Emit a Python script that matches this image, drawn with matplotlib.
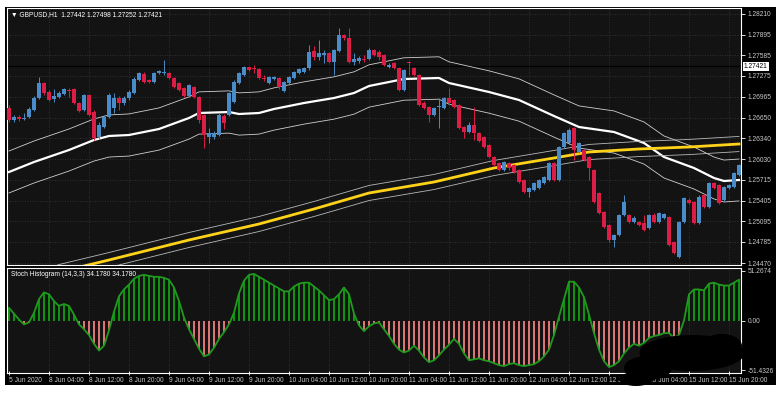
import matplotlib
matplotlib.use("Agg")
import matplotlib.pyplot as plt
import matplotlib.transforms as mtransforms
from matplotlib.patches import Rectangle, Ellipse
import numpy as np

plt.rcParams['font.family'] = ['Liberation Sans', 'DejaVu Sans']

# GBPUSD H1 candles, 5 Jun 2020 20:00 .. 15 Jun 2020 22:00
opens = [1.26795, 1.26615, 1.26660, 1.26630, 1.26660, 1.26765, 1.26945, 1.27170, 1.27035, 1.26930,
         1.26960, 1.27005, 1.27065, 1.27080, 1.26870, 1.26765, 1.26990, 1.26735, 1.26360, 1.26510,
         1.26660, 1.26795, 1.26945, 1.26870, 1.26945, 1.27020, 1.27215, 1.27305, 1.27215, 1.27185,
         1.27320, 1.27320, 1.27320, 1.27245, 1.27170, 1.27095, 1.26975, 1.27110, 1.26960, 1.26690,
         1.26360, 1.26360, 1.26390, 1.26675, 1.26690, 1.26885, 1.27170, 1.27290, 1.27410, 1.27395,
         1.27380, 1.27245, 1.27170, 1.27230, 1.27245, 1.27050, 1.27170, 1.27245, 1.27320, 1.27335,
         1.27395, 1.27650, 1.27560, 1.27590, 1.27620, 1.27485, 1.27650, 1.27890, 1.27845, 1.27485,
         1.27500, 1.27530, 1.27530, 1.27665, 1.27635, 1.27590, 1.27410, 1.27470, 1.27395, 1.27065,
         1.27485, 1.27395, 1.27290, 1.26870, 1.26810, 1.26690, 1.26810, 1.26795, 1.26945, 1.26915,
         1.26840, 1.26510, 1.26435, 1.26540, 1.26420, 1.26360, 1.26240, 1.26060, 1.25970, 1.25865,
         1.25970, 1.25940, 1.25865, 1.25715, 1.25535, 1.25565, 1.25595, 1.25670, 1.25715, 1.25970,
         1.25715, 1.26210, 1.26270, 1.26495, 1.26135, 1.26165, 1.26060, 1.25865, 1.25520, 1.25235,
         1.25040, 1.24815, 1.24890, 1.25190, 1.25190, 1.25085, 1.25085, 1.25070, 1.24995, 1.25190,
         1.25085, 1.25145, 1.25160, 1.24785, 1.24560, 1.25085, 1.25415, 1.25385, 1.25070, 1.25490,
         1.25310, 1.25670, 1.25640, 1.25415, 1.25595, 1.25610, 1.25790]
highs = [1.26840, 1.26690, 1.26690, 1.26720, 1.26810, 1.26975, 1.27260, 1.27185, 1.27065, 1.27080,
         1.27050, 1.27095, 1.27095, 1.27095, 1.26885, 1.27005, 1.27005, 1.26765, 1.26585, 1.26690,
         1.27020, 1.27020, 1.26975, 1.26975, 1.27065, 1.27260, 1.27335, 1.27335, 1.27230, 1.27335,
         1.27365, 1.27515, 1.27335, 1.27260, 1.27185, 1.27110, 1.27155, 1.27125, 1.26975, 1.26705,
         1.26495, 1.26450, 1.26720, 1.26705, 1.27035, 1.27215, 1.27335, 1.27425, 1.27425, 1.27440,
         1.27395, 1.27290, 1.27275, 1.27275, 1.27260, 1.27200, 1.27275, 1.27350, 1.27395, 1.27410,
         1.27740, 1.27725, 1.27815, 1.27665, 1.27635, 1.27680, 1.27995, 1.27905, 1.27995, 1.27620,
         1.27575, 1.27590, 1.27695, 1.27680, 1.27665, 1.27605, 1.27470, 1.27485, 1.27410, 1.27380,
         1.27500, 1.27410, 1.27305, 1.26900, 1.26825, 1.26810, 1.26945, 1.26960, 1.27095, 1.26930,
         1.26855, 1.26525, 1.26585, 1.26810, 1.26435, 1.26375, 1.26255, 1.26075, 1.25985, 1.26000,
         1.25985, 1.25955, 1.25880, 1.25730, 1.25610, 1.25685, 1.25730, 1.25775, 1.25985, 1.25985,
         1.26225, 1.26435, 1.26495, 1.26510, 1.26285, 1.26180, 1.26075, 1.25880, 1.25535, 1.25250,
         1.25055, 1.24905, 1.25205, 1.25490, 1.25205, 1.25175, 1.25100, 1.25190, 1.25205, 1.25220,
         1.25235, 1.25220, 1.25175, 1.24800, 1.25100, 1.25460, 1.25445, 1.25400, 1.25490, 1.25505,
         1.25685, 1.25685, 1.25655, 1.25625, 1.25655, 1.25835, 1.25955]
lows = [1.26585, 1.26585, 1.26600, 1.26615, 1.26645, 1.26750, 1.26930, 1.26990, 1.26900, 1.26885,
        1.26945, 1.26990, 1.26960, 1.26855, 1.26735, 1.26750, 1.26675, 1.26315, 1.26330, 1.26495,
        1.26645, 1.26720, 1.26765, 1.26840, 1.26915, 1.27005, 1.27200, 1.27170, 1.27170, 1.27170,
        1.27305, 1.27290, 1.27230, 1.27095, 1.27050, 1.26960, 1.26960, 1.26945, 1.26570, 1.26195,
        1.26270, 1.26330, 1.26375, 1.26480, 1.26675, 1.26870, 1.27155, 1.27275, 1.27350, 1.27320,
        1.27230, 1.27200, 1.27155, 1.27215, 1.27080, 1.27035, 1.27155, 1.27230, 1.27305, 1.27320,
        1.27365, 1.27515, 1.27515, 1.27470, 1.27470, 1.27290, 1.27635, 1.27815, 1.27470, 1.27440,
        1.27470, 1.27485, 1.27515, 1.27575, 1.27515, 1.27425, 1.27395, 1.27380, 1.27050, 1.27050,
        1.27290, 1.27275, 1.26825, 1.26780, 1.26585, 1.26675, 1.26495, 1.26780, 1.26840, 1.26795,
        1.26480, 1.26345, 1.26420, 1.26315, 1.26285, 1.26195, 1.26045, 1.25925, 1.25850, 1.25850,
        1.25865, 1.25820, 1.25670, 1.25520, 1.25460, 1.25550, 1.25580, 1.25655, 1.25700, 1.25700,
        1.25700, 1.26195, 1.26255, 1.26015, 1.26120, 1.26000, 1.25715, 1.25370, 1.25205, 1.24995,
        1.24785, 1.24710, 1.24875, 1.25175, 1.25070, 1.25070, 1.25025, 1.24950, 1.24980, 1.25070,
        1.25070, 1.25130, 1.24725, 1.24605, 1.24545, 1.25070, 1.25355, 1.25055, 1.25055, 1.25295,
        1.25295, 1.25580, 1.25355, 1.25400, 1.25580, 1.25595, 1.25775]
closes = [1.26615, 1.26660, 1.26630, 1.26645, 1.26780, 1.26945, 1.27170, 1.27020, 1.26915, 1.26975,
          1.27020, 1.27080, 1.27050, 1.26870, 1.26750, 1.26990, 1.26690, 1.26345, 1.26540, 1.26660,
          1.26990, 1.26945, 1.26870, 1.26945, 1.27035, 1.27230, 1.27320, 1.27185, 1.27185, 1.27320,
          1.27350, 1.27335, 1.27245, 1.27110, 1.27065, 1.26975, 1.27140, 1.26960, 1.26615, 1.26390,
          1.26420, 1.26420, 1.26690, 1.26570, 1.27020, 1.27185, 1.27320, 1.27410, 1.27365, 1.27380,
          1.27245, 1.27230, 1.27260, 1.27260, 1.27110, 1.27185, 1.27260, 1.27335, 1.27380, 1.27395,
          1.27635, 1.27560, 1.27620, 1.27620, 1.27485, 1.27665, 1.27890, 1.27845, 1.27485, 1.27530,
          1.27545, 1.27515, 1.27665, 1.27590, 1.27560, 1.27440, 1.27440, 1.27395, 1.27065, 1.27365,
          1.27470, 1.27290, 1.26840, 1.26795, 1.26690, 1.26795, 1.26825, 1.26945, 1.26870, 1.26810,
          1.26495, 1.26435, 1.26540, 1.26420, 1.26300, 1.26210, 1.26060, 1.25940, 1.25865, 1.25985,
          1.25895, 1.25835, 1.25685, 1.25535, 1.25595, 1.25670, 1.25715, 1.25760, 1.25970, 1.25715,
          1.26210, 1.26420, 1.26465, 1.26165, 1.26270, 1.26015, 1.25895, 1.25385, 1.25220, 1.25010,
          1.24815, 1.24890, 1.25190, 1.25385, 1.25085, 1.25145, 1.25040, 1.24965, 1.25190, 1.25085,
          1.25220, 1.25205, 1.24740, 1.24620, 1.25085, 1.25445, 1.25370, 1.25070, 1.25460, 1.25310,
          1.25670, 1.25595, 1.25370, 1.25610, 1.25640, 1.25820, 1.25940]

# moving averages (bar number, value)
ma_fast_bars = [1, 6, 13, 18, 21, 25, 31, 37, 39, 45, 47, 51, 54, 60, 66, 70, 73, 80,
                87, 89, 97, 103, 110, 115, 122, 128, 132, 138, 142, 144, 147]
ma_fast = [1.25835, 1.25985, 1.26165, 1.26315, 1.26375, 1.26390, 1.26480, 1.26645, 1.26720,
           1.26735, 1.26705, 1.26720, 1.26780, 1.26870, 1.26945, 1.27020, 1.27125, 1.27230,
           1.27245, 1.27170, 1.27035, 1.26915, 1.26675, 1.26510, 1.26435, 1.26270, 1.26060,
           1.25895, 1.25745, 1.25700, 1.25715]
ma_slow_bars = [1, 11, 21, 37, 51, 62, 73, 86, 98, 110, 117, 127, 137, 147]
ma_slow = [1.24065, 1.24335, 1.24515, 1.24815, 1.25055, 1.25280, 1.25520, 1.25685,
           1.25895, 1.26045, 1.26135, 1.26180, 1.26210, 1.26255]
fast_env = 0.0025
slow_env = 0.0009

stoch = [13, 7, 1, -4, -2, 8, 22, 29, 27, 20, 15, 17, 15, 6, -4, -9, -15, -24, -31, -26,
         -10, 9, 25, 32, 37, 43, 46, 47, 46, 45, 45, 44, 42, 34, 20, 3, -9, -19, -29, -37,
         -35, -28, -19, -12, -4, 8, 28, 41, 47, 48, 45, 42, 39, 36, 33, 30, 30, 35, 38, 39,
         39, 35, 31, 26, 21, 22, 27, 34, 27, 7, -5, -11, -6, -3, -2, -9, -16, -24, -30, -33,
         -31, -26, -31, -38, -43, -41, -36, -30, -25, -19, -24, -34, -41, -40, -39, -41, -42, -44, -46, -47,
         -45, -44, -46, -47, -46, -45, -42, -37, -30, -15, 4, 22, 40, 40, 34, 24, 6, -13, -30, -42,
         -48, -46, -42, -34, -28, -24, -26, -23, -18, -16, -15, -13, -13, -18, -15, 0, 27, 32, 32, 31,
         38, 39, 37, 36, 36, 39, 42]

price_ticks = [1.28210, 1.27895, 1.27585, 1.27275, 1.26965, 1.26650, 1.26340,
               1.26030, 1.25715, 1.25405, 1.25095, 1.24785, 1.24470]
time_ticks = [1, 9, 17, 25, 33, 41, 49, 57, 65, 73, 81, 89, 97, 105, 113, 121, 129, 137, 145]
time_labels = ["5 Jun 2020", "8 Jun 04:00", "8 Jun 12:00", "8 Jun 20:00", "9 Jun 04:00",
               "9 Jun 12:00", "9 Jun 20:00", "10 Jun 04:00", "10 Jun 12:00", "10 Jun 20:00",
               "11 Jun 04:00", "11 Jun 12:00", "11 Jun 20:00", "12 Jun 04:00", "12 Jun 12:00",
               "12 Jun 20:00", "15 Jun 04:00", "15 Jun 12:00", "15 Jun 20:00"]
bid = 1.27421

BG = "#131313"
TXT = "#c8c8c8"
BULL = "#4a8cc8"
BEAR = "#dc1e46"
FS = 4.8

o = np.array(opens); h = np.array(highs); l = np.array(lows); c = np.array(closes)
x = np.arange(1, len(o) + 1)

fig = plt.figure(figsize=(7.78, 3.97), dpi=100, facecolor="white")
fig.patches.append(Rectangle((5/778, 12/397), 771/778, 378/397, transform=fig.transFigure,
                             facecolor="black", edgecolor="none", zorder=-5))

ax = fig.add_axes([7/778, 1-265/397, 734/778, 257/397], facecolor=BG)
ax2 = fig.add_axes([7/778, 1-373/397, 734/778, 105/397], facecolor=BG, sharex=ax)

# grid
for a in (ax, ax2):
    for t in time_ticks[1:]:
        a.axvline(t, color="#3a3a3a", lw=0.6, ls=(0, (1, 2)), zorder=0)
for p in price_ticks:
    ax.axhline(p, color="#3a3a3a", lw=0.6, ls=(0, (1, 2)), zorder=0)
ax.axhline(bid, color="#000000", lw=0.9, zorder=1)

# moving averages + envelopes
mf = np.array(ma_fast); ms = np.array(ma_slow)
ax.plot(ma_fast_bars, mf, color="white", lw=1.6, zorder=2)
ax.plot(ma_fast_bars, mf * (1 + fast_env), color="#cfcfcf", lw=0.6, zorder=2)
ax.plot(ma_fast_bars, mf * (1 - fast_env), color="#cfcfcf", lw=0.6, zorder=2)
ax.plot(ma_slow_bars, ms, color="#ffd21a", lw=2.0, zorder=2)
ax.plot(ma_slow_bars, ms * (1 + slow_env), color="#b8b8b8", lw=0.6, zorder=2)
ax.plot(ma_slow_bars, ms * (1 - slow_env), color="#b8b8b8", lw=0.6, zorder=2)

# candles
cols = np.where(c >= o, BULL, BEAR)
ax.vlines(x, l, h, colors=cols, lw=0.7, zorder=3)
body = np.maximum(np.abs(c - o), 0.00004)
ax.bar(x, body, bottom=np.minimum(o, c), width=0.7, color=cols, edgecolor="none", zorder=4)

ax.set_xlim(0.6, 147.4)
ax.set_ylim(1.2444, 1.28295)
ax.yaxis.tick_right()
ax.set_yticks(price_ticks)
ax.set_yticklabels([f"{p:.5f}" for p in price_ticks])
ax.tick_params(axis="y", colors="white", labelcolor=TXT, labelsize=FS, length=3, width=0.6, pad=2)
ax.tick_params(axis="x", bottom=False, labelbottom=False)
for s in ax.spines.values():
    s.set_color("white"); s.set_linewidth(0.8)

trans = mtransforms.blended_transform_factory(ax.transAxes, ax.transData)
ax.text(1.004, bid, f"{bid:.5f}", transform=trans, fontsize=FS, color="black", va="center",
        ha="left", bbox=dict(boxstyle="square,pad=0.15", facecolor="white", edgecolor="none"),
        zorder=10, clip_on=False)
ax.text(0.006, 0.988, "\u25bc GBPUSD,H1  1.27442 1.27498 1.27252 1.27421", transform=ax.transAxes,
        fontsize=FS, color="white", va="top", ha="left")

# stoch histogram
sv = np.array(stoch, dtype=float)
scol = np.where(sv >= 0, "#10a010", "#f08080")
ax2.vlines(x, 0, sv, colors=scol, lw=1.3, zorder=2)
ax2.plot(x, sv, color="#1f9a1f", lw=1.3, zorder=3)
ax2.set_ylim(-54.1, 54.1)
ax2.yaxis.tick_right()
ax2.set_yticks([51.2674, 0, -51.4326])
ax2.set_yticklabels(["51.2674", "0.00", "-51.4326"])
ax2.tick_params(axis="y", colors="white", labelcolor=TXT, labelsize=FS, length=3, width=0.6, pad=1.5)
ax2.set_xticks(time_ticks)
ax2.set_xticklabels(time_labels, ha="left")
ax2.tick_params(axis="x", colors="white", labelcolor=TXT, labelsize=FS, length=3, width=0.6,
                pad=1.5, direction="inout")
for s in ax2.spines.values():
    s.set_color("white"); s.set_linewidth(0.8)
ax2.text(0.006, 0.97, "Stoch Histogram (14,3,3) 34.1780 34.1780", transform=ax2.transAxes,
         fontsize=FS, color="white", va="top", ha="left")

# redaction blot in the bottom right corner of the screenshot
for cx, cy, w, hh in [(692, 353, 105, 36), (722, 346, 40, 24), (648, 368, 48, 24), (636, 379, 34, 14)]:
    fig.patches.append(Ellipse((cx/778, 1-cy/397), w/778, hh/397, transform=fig.transFigure,
                               facecolor="black", edgecolor="none", zorder=20))

fig.savefig("out.png", dpi=100, facecolor=fig.get_facecolor())
